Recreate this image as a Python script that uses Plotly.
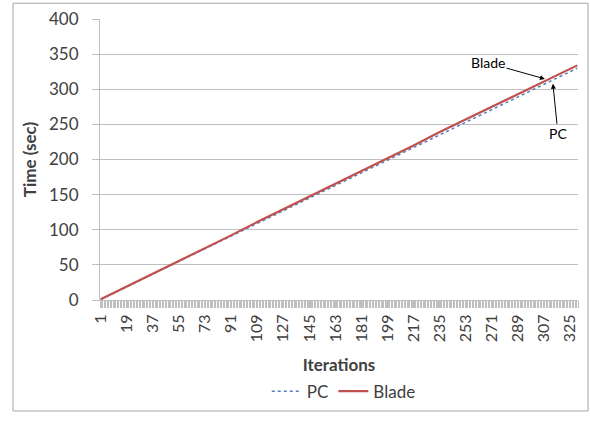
import plotly.graph_objects as go

iterations = [1, 19, 37, 55, 73, 91, 109, 127, 145, 163, 181, 199, 217, 235, 253, 271, 289, 307, 325, 330]
pc_time = [1, 19, 37, 55, 73, 91, 109, 127, 145, 164, 182, 200, 218, 236, 254, 272, 290, 308, 326, 330]
blade_time = [1, 19, 37.5, 56, 74, 92, 111, 129, 147, 166, 184, 202, 220, 239, 257, 275, 293, 311, 329, 334]
tick_labels = [1, 19, 37, 55, 73, 91, 109, 127, 145, 163, 181, 199, 217, 235, 253, 271, 289, 307, 325]
y_ticks = [0, 50, 100, 150, 200, 250, 300, 350, 400]

FONT = "Lato"
GRID = "#bfbfbf"
TXT = "#404040"

fig = go.Figure()
fig.add_trace(go.Scatter(x=iterations, y=pc_time, mode="lines", name="PC",
                         line=dict(color="#4F81BD", width=1.5, dash="dot")))
fig.add_trace(go.Scatter(x=iterations, y=blade_time, mode="lines", name="Blade",
                         line=dict(color="#C0504D", width=2.2)))

fig.update_layout(
    width=590, height=421,
    margin=dict(l=100, r=12, t=19, b=116),
    paper_bgcolor="white", plot_bgcolor="white",
    font=dict(family=FONT, size=16, color=TXT),
    showlegend=True,
    legend=dict(orientation="h", x=0.51, xanchor="center", y=-0.326, yanchor="middle",
                font=dict(size=17, color=TXT), tracegroupgap=0),
    xaxis=dict(
        automargin=False,
        range=[0.5, 330.5], tickmode="array", tickvals=tick_labels,
        ticktext=[str(t) for t in tick_labels], tickangle=-90,
        showgrid=False, zeroline=False, showline=True, linecolor=GRID, linewidth=1,
        ticks="outside", ticklen=7, tickcolor=GRID,
        tickfont=dict(size=16, color=TXT),
        minor=dict(tickmode="linear", tick0=0.5, dtick=1, ticks="outside", ticklen=7,
                   tickcolor=GRID, showgrid=False),
        title=dict(text="<b>Iterations</b>", font=dict(size=17, color=TXT), standoff=17),
    ),
    yaxis=dict(
        automargin=False,
        range=[0, 400], tickmode="array", tickvals=y_ticks,
        showgrid=True, gridcolor=GRID, gridwidth=1, zeroline=False,
        showline=True, linecolor=GRID, linewidth=1,
        ticks="outside", ticklen=7, tickcolor=GRID,
        tickfont=dict(size=17, color=TXT), ticklabelstandoff=10,
        title=dict(text="<b>Time (sec)</b>", font=dict(size=17, color=TXT), standoff=8),
    ),
)

fig.add_shape(type="rect", xref="paper", yref="paper",
              x0=-0.182, x1=1.021, y0=-0.395, y1=1.056,
              line=dict(color="#a6a6a6", width=1), fillcolor="rgba(0,0,0,0)", layer="below")

fig.add_annotation(x=307.7, y=314.7, ax=-57, ay=-16, text="Blade", showarrow=True,
                   arrowhead=2, arrowsize=1, arrowwidth=1, arrowcolor="black",
                   font=dict(size=14, color="black", family=FONT))
fig.add_annotation(x=313.2, y=307.7, ax=5, ay=50, text="PC", showarrow=True,
                   arrowhead=2, arrowsize=1, arrowwidth=1, arrowcolor="black",
                   font=dict(size=14, color="black", family=FONT))

fig.write_html("out.html", config={"displayModeBar": False},
               post_script="document.body.style.margin='0';")
